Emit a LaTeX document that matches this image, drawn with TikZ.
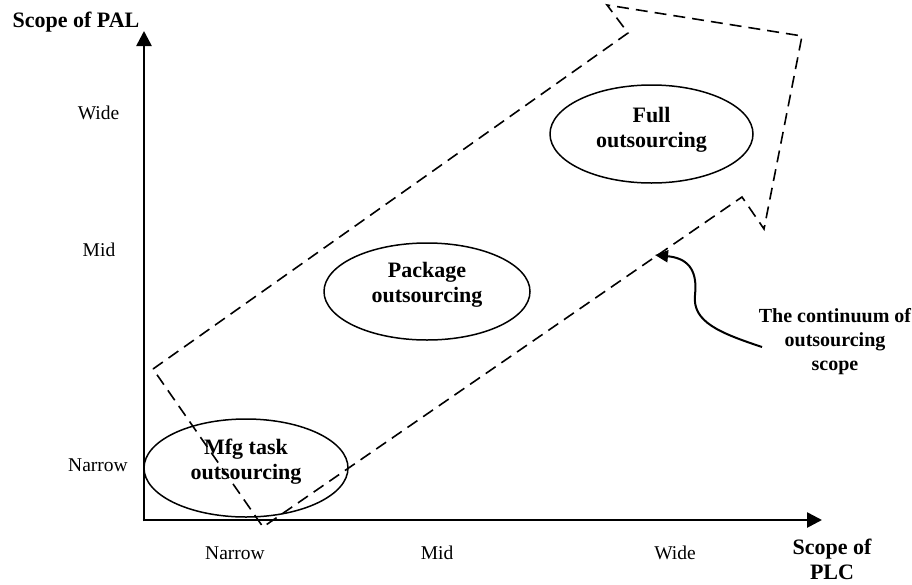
\documentclass[tikz,border=0pt]{standalone}
\usepackage{fontspec}
\setmainfont{Liberation Serif}
\usetikzlibrary{arrows.meta,shapes.geometric}
\begin{document}
\begin{tikzpicture}[x=1pt,y=-1pt,
  axis/.style={line width=2.6pt,-{Triangle[length=15pt,width=15pt]}},
  oval/.style={draw,ellipse,line width=1.5pt,inner sep=0pt},
  bigtext/.style={font=\bfseries\fontsize{22}{25}\selectfont,align=center,inner sep=0pt},
  ticktext/.style={font=\fontsize{19.5}{22}\selectfont,inner sep=0pt,anchor=base},
  contin/.style={font=\bfseries\fontsize{20}{24}\selectfont,align=center,inner sep=0pt},
  dashline/.style={line width=1.6pt,dash pattern=on 12pt off 7pt,line join=miter},
  curvearrow/.style={line width=2pt,-{Triangle[length=13pt,width=12pt]}}]
\useasboundingbox (0,0) rectangle (912,584);
% axes
\coordinate (O) at (144,520);
\coordinate (Ob) at (144,521.3);
\coordinate (Ol) at (142.7,520);
\coordinate (ytip) at (144,31);
\coordinate (xtip) at (822,520);
\draw[axis] (Ob) -- (ytip);
\draw[axis] (Ol) -- (xtip);
% axis titles
\node[font=\bfseries\fontsize{22}{25}\selectfont,inner sep=0pt,anchor=base] (ytitle) at (76,27) {Scope of PAL};
\node[bigtext] (xtitle) at (832,559.5) {Scope of\\PLC};
% tick labels
\node[ticktext] (ywide) at (98.5,119) {Wide};
\node[ticktext] (ymid) at (99,256) {Mid};
\node[ticktext] (ynarrow) at (98,471) {Narrow};
\node[ticktext] (xnarrow) at (235,559) {Narrow};
\node[ticktext] (xmid) at (437,559) {Mid};
\node[ticktext] (xwide) at (675,559) {Wide};
% dashed arrow
\coordinate (A) at (153,369);
\coordinate (B) at (628,33);
\coordinate (C) at (607,5);
\coordinate (D) at (802,36);
\coordinate (E) at (764,229);
\coordinate (F) at (742,197);
\coordinate (H) at (263,527);
\draw[dashline] (A) -- (B) -- (C) -- (D) -- (E) -- (F) -- (H) -- cycle;
% ellipses
\node[oval,minimum width=204pt,minimum height=98pt] (mfg) at (246,468) {};
\node[bigtext] (mfgtext) at ([yshift=6.5pt]mfg.center) {Mfg task\\outsourcing};
\node[oval,minimum width=206pt,minimum height=97pt] (pkg) at (427,291.5) {};
\node[bigtext] (pkgtext) at ([yshift=7pt]pkg.center) {Package\\outsourcing};
\node[oval,minimum width=203pt,minimum height=98pt] (full) at (651.5,134) {};
\node[bigtext] (fulltext) at ([yshift=4.5pt]full.center) {Full\\outsourcing};
% continuum label and curved arrow
\node[contin] (cont) at (835,341.5) {The continuum of\\outsourcing\\scope};
\coordinate (cstart) at (762,347);
\coordinate (ctip) at (655,255);
\draw[curvearrow] (cstart) .. controls (720,333) and (692,322) .. (695,295)
  .. controls (698,268) and (686,258) .. (ctip);
\end{tikzpicture}
\end{document}
